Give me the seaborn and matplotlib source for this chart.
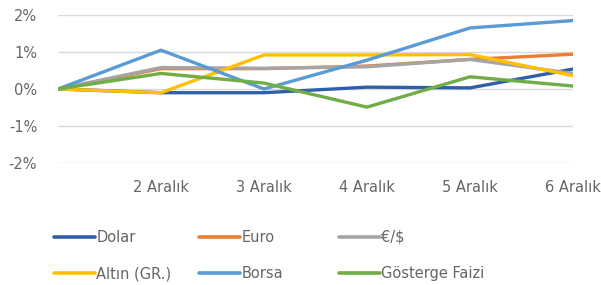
import pandas as pd
import seaborn as sns
import matplotlib.pyplot as plt
from matplotlib.lines import Line2D

# data (% change)
days = ["", "2 Aralık", "3 Aralık", "4 Aralık", "5 Aralık", "6 Aralık"]
dolar = [0.0, -0.10, -0.10, 0.05, 0.03, 0.54]
euro = [0.0, 0.55, 0.55, 0.62, 0.80, 0.94]
eur_usd = [0.0, 0.58, 0.56, 0.60, 0.80, 0.42]
altin = [0.0, -0.10, 0.92, 0.92, 0.93, 0.36]
borsa = [0.0, 1.05, 0.00, 0.78, 1.65, 1.85]
faiz = [0.0, 0.42, 0.16, -0.49, 0.33, 0.08]

series_names = ["Dolar", "Euro", "€/$", "Altın (GR.)", "Borsa", "Gösterge Faizi"]
colors = ["#2F5FA8", "#ED7D31", "#A5A5A5", "#FFC000", "#5B9BD5", "#70AD47"]
yticks = [-2, -1, 0, 1, 2]
ytick_labels = ["-2%", "-1%", "0%", "1%", "2%"]

rows = []
for name, vals in zip(series_names, [dolar, euro, eur_usd, altin, borsa, faiz]):
    for i, v in enumerate(vals):
        rows.append({"pos": i, "val": v, "seri": name})
df = pd.DataFrame(rows)

sns.set_theme(style="white")
plt.rcParams["font.family"] = ["DejaVu Sans"]
fs = 10.5
txt = "#666666"

fig = plt.figure(figsize=(6.01, 2.85), dpi=100)
ax = fig.add_axes([58 / 601, 1 - 163 / 285, (573 - 58) / 601, 148 / 285])

sns.lineplot(data=df, x="pos", y="val", hue="seri", hue_order=series_names,
             palette=colors, linewidth=2.4, ax=ax, legend=False)

ax.set_xlim(0, 5)
ax.set_ylim(-2, 2)
ax.set_xticks(range(len(days)))
ax.set_xticklabels(days)
ax.set_yticks(yticks)
ax.set_yticklabels(ytick_labels)
ax.grid(axis="y", color="#D9D9D9", linewidth=1)
ax.set_axisbelow(True)
for s in ax.spines.values():
    s.set_visible(False)
ax.tick_params(axis="both", length=0, labelsize=fs, labelcolor=txt)
ax.tick_params(axis="x", pad=12)
ax.tick_params(axis="y", pad=15)
ax.set_xlabel("")
ax.set_ylabel("")

# legend laid out like excel: three equal columns, two rows
col_x = [54, 199, 339]
for c in range(3):
    idx = [c, c + 3]
    handles = [Line2D([], [], color=colors[i], linewidth=2.6) for i in idx]
    fig.legend(handles, [series_names[i] for i in idx], loc="upper left",
               bbox_to_anchor=(col_x[c] / 601, 1 - 230 / 285), frameon=False,
               fontsize=fs, labelcolor=txt, handlelength=2.8,
               handletextpad=0.1, borderpad=0, borderaxespad=0, labelspacing=1.45)

fig.savefig("out.png", dpi=100, facecolor="white")
